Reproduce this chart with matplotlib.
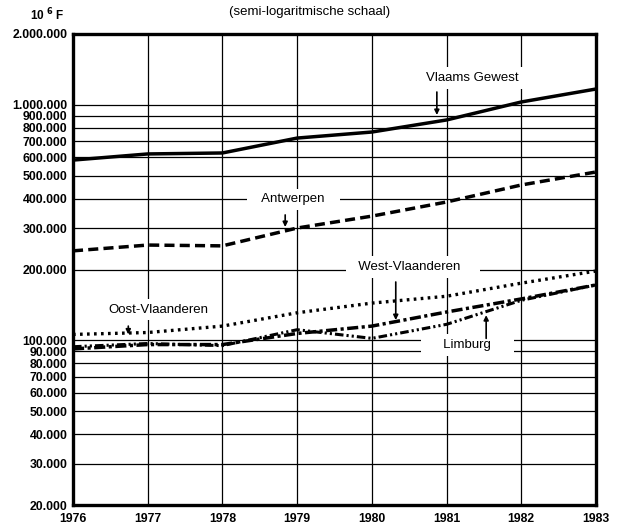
import numpy as np
import matplotlib
matplotlib.use("Agg")
import matplotlib.pyplot as plt

# Gegevens (miljoen F)
jaren = [1976, 1977, 1978, 1979, 1980, 1981, 1982, 1983]
vlaams_gewest = [583000, 619000, 625000, 723000, 767000, 863000, 1029000, 1168000]
antwerpen = [240000, 254000, 252000, 300000, 337000, 387000, 457000, 519000]
oost_vlaanderen = [106000, 108000, 115000, 131000, 144000, 154000, 175000, 197000]
west_vlaanderen = [92000, 96000, 96000, 107000, 115000, 132000, 150000, 172000]
limburg = [94000, 97000, 95000, 111000, 102000, 117000, 148000, 172000]

y_ticks = [20000, 30000, 40000, 50000, 60000, 70000, 80000, 90000, 100000,
           200000, 300000, 400000, 500000, 600000, 700000, 800000, 900000,
           1000000, 2000000]

plt.rcParams['font.family'] = ['Liberation Sans', 'DejaVu Sans']

fig = plt.figure(figsize=(6.22, 5.29), dpi=100)
ax = fig.add_axes([73 / 622, 1 - 505 / 529, 523 / 622, 471 / 529])

ax.set_yscale('log')
ax.set_xlim(1976, 1983)
ax.set_ylim(20000, 2000000)

ax.set_yticks(y_ticks)
ax.set_yticklabels([f"{v:,}".replace(",", ".") for v in y_ticks])
ax.yaxis.set_minor_locator(matplotlib.ticker.NullLocator())
ax.set_xticks(jaren)
ax.set_xticklabels([str(j) for j in jaren])
ax.tick_params(length=0, labelsize=8.8, pad=4)
ax.tick_params(axis='x', pad=6)
for lab in ax.get_xticklabels() + ax.get_yticklabels():
    lab.set_fontweight('bold')

ax.grid(True, color='black', lw=0.9)
ax.set_axisbelow(True)
for sp in ax.spines.values():
    sp.set_linewidth(2.4)
    sp.set_zorder(6)

# Lijnen
ax.plot(jaren, vlaams_gewest, color='black', lw=2.5, zorder=5)
ax.plot(jaren, antwerpen, color='black', lw=2.5, ls=(0, (2.9, 1.5)), zorder=5)
ax.plot(jaren, oost_vlaanderen, color='black', lw=2.4, ls=(0, (0.8, 1.3)), zorder=5)
ax.plot(jaren, west_vlaanderen, color='black', lw=2.5, ls=(0, (3.2, 1.0, 0.9, 1.0)), zorder=5)
ax.plot(jaren, limburg, color='black', lw=2.2, ls=(0, (2.8, 1.0, 0.7, 1.0, 0.7, 1.0)), zorder=5)

# Labels met witte achtergrond (onderbreken het raster)
box = dict(boxstyle='square,pad=0.35', fc='white', ec='none')
labels = [
    ("Vlaams Gewest", 1981.35, 1300000),
    ("   Antwerpen   ", 1978.95, 398000),
    ("Oost-Vlaanderen", 1977.14, 135000),
    ("  West-Vlaanderen    ", 1980.55, 205000),
    ("     Limburg     ", 1981.28, 95600),
]
for txt, x, y in labels:
    ax.text(x, y, txt, ha='center', va='center', fontsize=9.5, bbox=box, zorder=3)

# Pijlen
pijlen = [
    (1980.87, 1134000, 906000),
    (1978.84, 341000, 303000),
    (1976.74, 115000, 106000),
    (1980.32, 177000, 122000),
    (1981.53, 102000, 128000),
]
for x, y0, y1 in pijlen:
    ax.annotate('', xy=(x, y1), xytext=(x, y0),
                arrowprops=dict(arrowstyle='-|>', color='black', lw=1.2,
                                mutation_scale=7, shrinkA=0, shrinkB=0),
                zorder=4)

fig.text(310 / 622, 1 - 12 / 529, "(semi-logaritmische schaal)",
         ha='center', va='center', fontsize=9.5)
fig.text(30 / 622, 1 - 15 / 529, r"10 $^{\mathbf{6}}$ F", ha='left', va='center',
         fontsize=8.5, fontweight='bold')

fig.savefig("out.png", dpi=100)
